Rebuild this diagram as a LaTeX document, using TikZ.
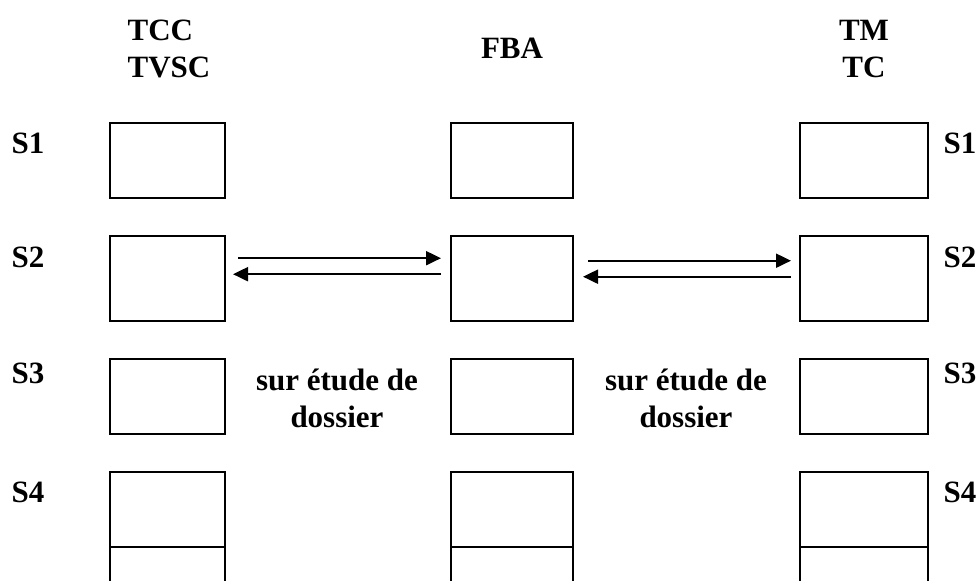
\documentclass[tikz,border=0pt]{standalone}
\usepackage{fontspec}
\setmainfont{Liberation Serif}
\usetikzlibrary{arrows.meta}
\tikzset{
  box/.style={draw, line width=2pt, inner sep=0pt},
  lbl/.style={font=\fontsize{31}{37}\selectfont\bfseries, inner sep=0pt},
  flow/.style={line width=2pt, -{Triangle[length=15pt,width=14pt]}}
}
\begin{document}
\begin{tikzpicture}[x=1pt,y=-1pt]
  \clip (0,0) rectangle (980,581);
  \draw
    (169,49) node[lbl, align=left] (tcc){TCC\\TVSC}
    (512,48) node[lbl] (fba){FBA}
    (864,49) node[lbl, align=center] (tm){TM\\TC}
    (28,143) node[lbl] (s1l){S1}
    (28,257) node[lbl] (s2l){S2}
    (28,373) node[lbl] (s3l){S3}
    (28,492) node[lbl] (s4l){S4}
    (960,143) node[lbl] (s1r){S1}
    (960,257) node[lbl] (s2r){S2}
    (960,373) node[lbl] (s3r){S3}
    (960,492) node[lbl] (s4r){S4}
    (337,398) node[lbl, align=center] (dos1){sur étude de\\dossier}
    (686,398) node[lbl, align=center] (dos2){sur étude de\\dossier};
  \begin{scope}[minimum height=75pt]
    \draw
      (167.5,160.3) node[box, minimum width=115pt] (l1){}
      (167.5,278.2) node[box, minimum width=115pt, minimum height=85pt] (l2){}
      (167.5,396.2) node[box, minimum width=115pt] (l3){}
      (167.5,509.3) node[box, minimum width=115pt] (l4){}
      (167.5,584) node[box, minimum width=115pt] (l5){}
      (512,160.3) node[box, minimum width=122pt] (m1){}
      (512,278.2) node[box, minimum width=122pt, minimum height=85pt] (m2){}
      (512,396.2) node[box, minimum width=122pt] (m3){}
      (512,509.3) node[box, minimum width=122pt] (m4){}
      (512,584) node[box, minimum width=122pt] (m5){}
      (864,160.3) node[box, minimum width=128pt] (r1){}
      (864,278.2) node[box, minimum width=128pt, minimum height=85pt] (r2){}
      (864,396.2) node[box, minimum width=128pt] (r3){}
      (864,509.3) node[box, minimum width=128pt] (r4){}
      (864,584) node[box, minimum width=128pt] (r5){};
  \end{scope}
  \begin{scope}[flow]
    \draw ([xshift=12pt, yshift=20pt]l2.east) to ([xshift=-9pt, yshift=20pt]m2.west);
    \draw ([xshift=-9pt, yshift=4pt]m2.west) to ([xshift=7pt, yshift=4pt]l2.east);
    \draw ([xshift=14pt, yshift=17.5pt]m2.east) to ([xshift=-8pt, yshift=17.5pt]r2.west);
    \draw ([xshift=-8pt, yshift=1.5pt]r2.west) to ([xshift=9pt, yshift=1.5pt]m2.east);
  \end{scope}
\end{tikzpicture}
\end{document}
